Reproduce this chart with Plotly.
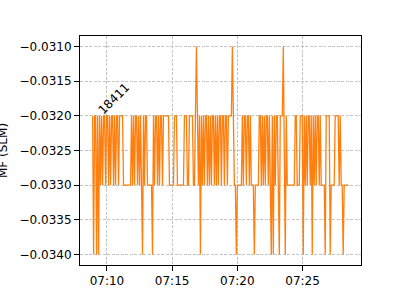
import pandas as pd
import plotly.graph_objects as go

# Level codes, one code per sample
# a = -0.0310, b = -0.0320, c = -0.0330, d = -0.0340
level_values = {"a": -0.0310, "b": -0.0320, "c": -0.0330, "d": -0.0340}
segments = [
    "bdbbdbdb", "cbcbbcbbcbcbbcbcbbcb", "bbb", "cccccccc", "bcbcbbcbcbc", "d",
    "bcbbc", "cccc", "d", "bcbbcbcbbc", "bbbbbb", "ccccc", "bbb", "ccccccc",
    "bbb", "cc", "bbbb", "cc", "babcb", "d", "bcbcbbcbcbcbbcbcbcb",
    "bcbbcbbcbb", "bb", "a", "bcc", "d", "ccccc", "bcbbcbbcbcc", "c", "d",
    "cccc", "bbcb", "cbcbbcbc", "dbd", "bcbbc", "d", "bbb", "acd", "b",
    "cccccccc", "bb", "ccc", "bbb", "d", "bcbcbbcb", "d", "bcbcbbcbc", "ccc",
    "d", "bbbb", "d", "cccc", "bbbb", "cbcc", "d", "ccccc",
]
codes = "".join(segments)
mf_values = [level_values[ch] for ch in codes]

start_time = "2023-01-01 07:08:54"
end_time = "2023-01-01 07:28:30"
times = pd.date_range(start_time, end_time, periods=len(mf_values))

x_range = ["2023-01-01 07:07:56", "2023-01-01 07:29:29"]
y_range = [-0.03415, -0.03085]
x_tickvals = ["2023-01-01 07:10", "2023-01-01 07:15", "2023-01-01 07:20", "2023-01-01 07:25"]
x_ticktext = ["07:10", "07:15", "07:20", "07:25"]
y_tickvals = [-0.0340, -0.0335, -0.0330, -0.0325, -0.0320, -0.0315, -0.0310]
label_text = "18411"

fig = go.Figure()
fig.add_trace(go.Scatter(
    x=times, y=mf_values, mode="lines",
    line=dict(color="#ff7f0e", width=1.3),
    showlegend=False,
))

font = dict(family="DejaVu Sans", size=12, color="black")
axis_common = dict(
    showline=True, linecolor="black", linewidth=1, mirror=True,
    ticks="outside", ticklen=5, tickcolor="black", tickwidth=1,
    showgrid=True, gridcolor="#c4c4c4", gridwidth=0.8, griddash="3px,1.5px",
    zeroline=False, tickfont=font,
)
fig.update_xaxes(range=x_range, tickvals=x_tickvals, ticktext=x_ticktext, **axis_common)
fig.update_yaxes(range=y_range, tickvals=y_tickvals, tickformat=".4f", **axis_common)

fig.add_annotation(
    x="2023-01-01 07:10:31", y=-0.03176, xref="x", yref="y",
    text=label_text, textangle=-45, showarrow=False,
    xanchor="center", yanchor="middle", font=font,
)
fig.add_annotation(
    x=(2.5 - 80) / 281, y=0.5, xref="paper", yref="paper",
    text="MF (SLM)", textangle=-90, showarrow=False,
    xanchor="center", yanchor="middle", font=font,
)

fig.update_layout(
    width=400, height=300,
    margin=dict(l=80, r=39, t=36, b=33),
    paper_bgcolor="white", plot_bgcolor="white",
    font=font,
)
fig.write_html("out.html")
